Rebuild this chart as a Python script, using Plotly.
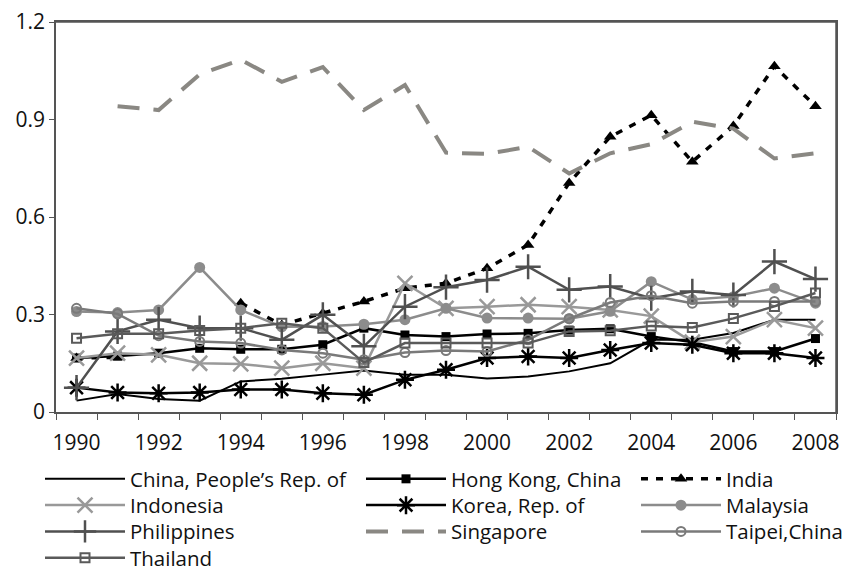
import plotly.graph_objects as go

years = list(range(1990, 2009))

china = [0.035, 0.055, 0.040, 0.035, 0.094, 0.102, 0.115, 0.128, 0.115, 0.115, 0.103, 0.109, 0.125, 0.150, 0.222, 0.222, 0.243, 0.284, 0.284]
hongkong = [0.166, 0.172, 0.181, 0.196, 0.193, 0.193, 0.207, 0.258, 0.237, 0.232, 0.240, 0.242, 0.252, 0.256, 0.232, 0.215, 0.186, 0.186, 0.226]
india = [0.166, 0.168, None, None, 0.335, 0.268, 0.304, 0.340, 0.381, 0.396, 0.442, 0.514, 0.705, 0.847, 0.913, 0.770, 0.880, 1.064, 0.941]
indonesia = [0.166, 0.181, 0.176, 0.150, 0.148, 0.135, 0.150, 0.135, 0.396, 0.319, 0.324, 0.330, 0.324, 0.314, 0.295, 0.215, 0.232, 0.284, 0.258]
korea = [0.075, 0.060, 0.058, 0.060, 0.069, 0.069, 0.058, 0.053, 0.099, 0.130, 0.166, 0.171, 0.166, 0.191, 0.212, 0.207, 0.181, 0.181, 0.166]
malaysia = [0.309, 0.306, 0.314, 0.445, 0.314, 0.262, 0.263, 0.270, 0.284, 0.319, 0.289, 0.289, 0.287, 0.310, 0.401, 0.346, 0.355, 0.381, 0.335]
philippines = [0.075, 0.248, 0.284, 0.258, 0.258, 0.222, 0.299, 0.202, 0.324, 0.384, 0.406, 0.447, 0.376, 0.386, 0.350, 0.371, 0.360, 0.463, 0.409]
singapore = [None, 0.941, 0.929, 1.039, 1.084, 1.016, 1.061, 0.929, 1.006, 0.798, 0.794, 0.816, 0.734, 0.796, 0.824, 0.893, 0.872, 0.780, 0.796]
taipei = [0.319, 0.302, 0.235, 0.217, 0.212, 0.191, 0.181, 0.161, 0.183, 0.189, 0.186, 0.222, 0.287, 0.337, 0.358, 0.335, 0.340, 0.340, 0.340]
thailand = [0.227, 0.241, 0.241, 0.251, 0.258, 0.273, 0.258, 0.152, 0.212, 0.212, 0.212, 0.212, 0.248, 0.250, 0.265, 0.260, 0.288, 0.325, 0.366]

names = ["China, People\u2019s Rep. of", "Hong Kong, China", "India", "Indonesia", "Korea, Rep. of",
         "Malaysia", "Philippines", "Singapore", "Taipei,China", "Thailand"]

FONT = "Open Sans"
FS = 21
LFS = 20.5

# the page shows the figure with an 8px body margin; positions below are in figure pixels
W, H = 854, 575
L, R, T, B = 48, 26, 14, 171
PW, PH = W - L - R, H - T - B

def px_x(px):
    return (px - L) / PW

def px_y(py):
    return (H - B - py) / PH

col_x = [32, 353, 628]
row_y = [471, 497.3, 523.6, 550]

fig = go.Figure()
legend_layouts = {}
counter = [0]

def add(name, y, color, width, col, row, dash="solid", symbol=None, msize=8, mline=None):
    counter[0] += 1
    key = "legend" if counter[0] == 1 else f"legend{counter[0]}"
    mode = "lines+markers" if symbol else "lines"
    marker = dict(symbol=symbol or "circle", size=msize, color=color,
                  line=dict(color=color, width=mline if mline is not None else 0))
    fig.add_trace(go.Scatter(x=years, y=y, name=name, mode=mode,
                             line=dict(color=color, width=width, dash=dash),
                             marker=marker, connectgaps=False, legend=key))
    legend_layouts[key] = dict(x=px_x(col_x[col]), y=px_y(row_y[row]), xanchor="left", yanchor="middle",
                               orientation="v", font=dict(family=FONT, size=LFS, color="#111111"),
                               bgcolor="rgba(0,0,0,0)", itemwidth=80, itemclick=False,
                               itemdoubleclick=False)

add(names[0], china, "#000000", 2, 0, 0)
add(names[1], hongkong, "#000000", 2.5, 1, 0, symbol="square", msize=9)
add(names[2], india, "#000000", 3.5, 2, 0, dash="7px,8px", symbol="triangle-up", msize=11)
add(names[3], indonesia, "#999999", 2.5, 0, 1, symbol="x-thin-open", msize=15, mline=2.5)
add(names[4], korea, "#000000", 2.5, 1, 1, symbol="asterisk-open", msize=15, mline=2.5)
add(names[5], malaysia, "#8c8c8c", 2.5, 2, 1, symbol="circle", msize=11)
add(names[6], philippines, "#505050", 2.5, 0, 2, symbol="cross-thin-open", msize=18, mline=2.5)
add(names[7], singapore, "#8a8883", 4, 1, 2, dash="22px,14px")
add(names[8], taipei, "#7a7a7a", 2.5, 2, 2, symbol="circle-open", msize=9, mline=2)
add(names[9], thailand, "#5a5a5a", 2.5, 0, 3, symbol="square-open", msize=9, mline=2)

axis_color = "#555555"
fig.update_layout(
    width=W, height=H,
    margin=dict(l=L, r=R, t=T, b=B, autoexpand=False),
    paper_bgcolor="white", plot_bgcolor="white",
    font=dict(family=FONT, size=FS, color="#111111"),
    showlegend=True,
    xaxis=dict(range=[1989.5, 2008.5], tickmode="array", tickvals=list(range(1990, 2009, 2)),
               ticks="outside", ticklen=11, tickcolor="rgba(0,0,0,0)", ticklabeloverflow="allow",
               showgrid=False, zeroline=False, showline=True, linecolor=axis_color,
               linewidth=1.5, mirror=True, tickfont=dict(size=FS),
               minor=dict(tick0=1989.5, dtick=1, ticks="outside", ticklen=6, tickcolor=axis_color,
                          tickwidth=1.2, showgrid=False)),
    yaxis=dict(range=[0, 1.2], tickmode="array", tickvals=[0, 0.3, 0.6, 0.9, 1.2],
               ticktext=["0", "0.3", "0.6", "0.9", "1.2"], ticklabeloverflow="allow",
               ticks="outside", ticklen=5, tickcolor=axis_color, tickwidth=1.2,
               showgrid=False, zeroline=False, showline=True, linecolor=axis_color,
               linewidth=1.5, mirror=True, tickfont=dict(size=FS)),
    shapes=[
        dict(type="line", xref="paper", yref="paper", x0=0, x1=1, y0=1, y1=1,
             line=dict(color=axis_color, width=1.5), layer="above"),
        dict(type="line", xref="paper", yref="paper", x0=1, x1=1, y0=0, y1=1,
             line=dict(color=axis_color, width=1.5), layer="above"),
    ],
    **legend_layouts,
)

fig.write_html("out.html")
